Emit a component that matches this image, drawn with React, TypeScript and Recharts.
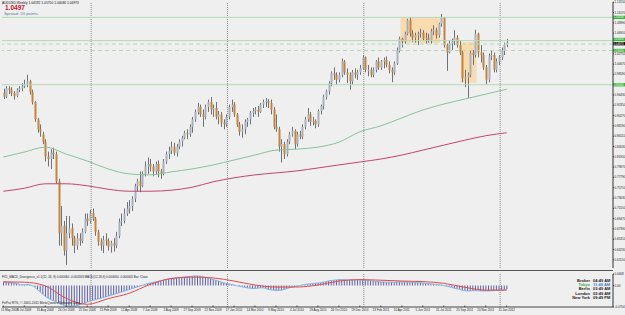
import { ComposedChart, Bar, Line, XAxis, YAxis, ReferenceLine, ReferenceArea } from 'recharts'

// weekly AUDUSD candles [open, high, low, close], first bar = 11 May 2008
const candles2008 = [
  [0.948, 0.957, 0.936, 0.941], [0.941, 0.962, 0.938, 0.958], [0.958, 0.962, 0.946, 0.955], [0.955, 0.96, 0.942, 0.948],
  [0.948, 0.952, 0.935, 0.942], [0.942, 0.958, 0.94, 0.955], [0.955, 0.962, 0.95, 0.958], [0.958, 0.968, 0.952, 0.962],
  [0.962, 0.975, 0.958, 0.966], [0.966, 0.985, 0.96, 0.972], [0.972, 0.975, 0.945, 0.95], [0.95, 0.955, 0.925, 0.93],
  [0.93, 0.932, 0.89, 0.895], [0.895, 0.898, 0.868, 0.875], [0.875, 0.885, 0.86, 0.87], [0.865, 0.87, 0.845, 0.85],
  [0.85, 0.855, 0.81, 0.82], [0.82, 0.83, 0.8, 0.815], [0.815, 0.835, 0.795, 0.828], [0.828, 0.838, 0.815, 0.825],
  [0.825, 0.83, 0.765, 0.77], [0.77, 0.775, 0.64, 0.665], [0.665, 0.72, 0.64, 0.68], [0.68, 0.69, 0.62, 0.63],
  [0.63, 0.7, 0.601, 0.665], [0.665, 0.7, 0.655, 0.675], [0.675, 0.685, 0.64, 0.655], [0.655, 0.66, 0.625, 0.64],
  [0.64, 0.665, 0.632, 0.655], [0.655, 0.665, 0.64, 0.65], [0.65, 0.675, 0.645, 0.668], [0.668, 0.705, 0.665, 0.695],
  [0.695, 0.705, 0.68, 0.69], [0.69, 0.712, 0.685, 0.705],
]
const candles2009 = [
  [0.705, 0.715, 0.69, 0.695], [0.695, 0.698, 0.66, 0.668], [0.668, 0.672, 0.64, 0.648], [0.648, 0.655, 0.63, 0.64],
  [0.64, 0.66, 0.625, 0.652], [0.652, 0.665, 0.64, 0.65], [0.65, 0.655, 0.63, 0.638], [0.638, 0.65, 0.626, 0.645],
  [0.645, 0.655, 0.628, 0.64], [0.64, 0.668, 0.635, 0.66], [0.66, 0.695, 0.655, 0.688], [0.688, 0.705, 0.68, 0.69],
  [0.69, 0.715, 0.685, 0.705], [0.705, 0.728, 0.7, 0.715], [0.715, 0.732, 0.705, 0.72], [0.72, 0.74, 0.71, 0.735],
  [0.735, 0.765, 0.728, 0.76], [0.76, 0.775, 0.75, 0.77], [0.77, 0.79, 0.748, 0.76], [0.76, 0.79, 0.758, 0.785],
  [0.785, 0.81, 0.78, 0.8], [0.8, 0.818, 0.785, 0.805], [0.805, 0.815, 0.79, 0.8], [0.8, 0.805, 0.78, 0.79],
  [0.79, 0.81, 0.785, 0.805], [0.805, 0.812, 0.778, 0.79], [0.79, 0.795, 0.775, 0.785], [0.785, 0.815, 0.782, 0.81],
  [0.81, 0.83, 0.805, 0.825], [0.825, 0.84, 0.815, 0.832], [0.832, 0.85, 0.825, 0.84], [0.84, 0.848, 0.822, 0.828],
  [0.828, 0.845, 0.82, 0.84], [0.84, 0.855, 0.835, 0.85], [0.85, 0.862, 0.84, 0.858], [0.858, 0.872, 0.855, 0.868],
  [0.868, 0.875, 0.855, 0.865], [0.865, 0.885, 0.86, 0.88], [0.88, 0.9, 0.868, 0.895], [0.895, 0.915, 0.89, 0.91],
  [0.91, 0.928, 0.905, 0.92], [0.92, 0.925, 0.9, 0.905], [0.905, 0.915, 0.88, 0.9], [0.9, 0.925, 0.895, 0.92],
  [0.92, 0.935, 0.91, 0.93], [0.93, 0.94, 0.905, 0.915], [0.915, 0.925, 0.9, 0.918], [0.918, 0.93, 0.895, 0.9],
  [0.9, 0.912, 0.885, 0.905], [0.905, 0.91, 0.88, 0.888], [0.888, 0.895, 0.875, 0.885], [0.885, 0.905, 0.88, 0.9],
]
const candles2010 = [
  [0.9, 0.925, 0.895, 0.92], [0.92, 0.935, 0.91, 0.925], [0.925, 0.93, 0.9, 0.905], [0.905, 0.908, 0.88, 0.885],
  [0.885, 0.89, 0.862, 0.87], [0.87, 0.885, 0.858, 0.875], [0.875, 0.895, 0.865, 0.89], [0.89, 0.898, 0.88, 0.895],
  [0.895, 0.912, 0.885, 0.908], [0.908, 0.918, 0.9, 0.912], [0.912, 0.92, 0.905, 0.915], [0.915, 0.922, 0.9, 0.91],
  [0.91, 0.928, 0.908, 0.925], [0.925, 0.935, 0.918, 0.93], [0.93, 0.938, 0.92, 0.932], [0.932, 0.936, 0.918, 0.928],
  [0.928, 0.935, 0.905, 0.915], [0.915, 0.92, 0.875, 0.88], [0.88, 0.905, 0.87, 0.875], [0.875, 0.88, 0.83, 0.84],
  [0.84, 0.855, 0.808, 0.845], [0.845, 0.85, 0.815, 0.825], [0.825, 0.855, 0.82, 0.85], [0.85, 0.87, 0.845, 0.865],
  [0.865, 0.88, 0.86, 0.872], [0.872, 0.875, 0.835, 0.845], [0.845, 0.87, 0.84, 0.865], [0.865, 0.872, 0.855, 0.86],
  [0.86, 0.885, 0.855, 0.88], [0.88, 0.9, 0.875, 0.895], [0.895, 0.918, 0.89, 0.905], [0.905, 0.91, 0.882, 0.89],
  [0.89, 0.9, 0.883, 0.892], [0.892, 0.895, 0.877, 0.885], [0.885, 0.915, 0.88, 0.912], [0.912, 0.925, 0.905, 0.922],
  [0.922, 0.945, 0.915, 0.94], [0.94, 0.955, 0.935, 0.952], [0.952, 0.972, 0.945, 0.968], [0.968, 0.992, 0.962, 0.988],
  [0.988, 1.0, 0.975, 0.985], [0.985, 0.99, 0.965, 0.975], [0.975, 0.99, 0.97, 0.985], [0.985, 1.018, 0.98, 1.012],
  [1.012, 1.015, 0.985, 0.99], [0.99, 0.998, 0.968, 0.985], [0.985, 0.99, 0.955, 0.972], [0.972, 0.995, 0.965, 0.99],
  [0.99, 0.998, 0.978, 0.985], [0.985, 0.995, 0.975, 0.99], [0.99, 1.005, 0.985, 0.998], [0.998, 1.025, 0.995, 1.02],
]
const candles2011 = [
  [1.02, 1.022, 0.99, 0.995], [0.995, 1.005, 0.982, 0.995], [0.995, 1.0, 0.98, 0.985], [0.985, 1.0, 0.98, 0.995],
  [0.995, 1.015, 0.99, 1.012], [1.012, 1.02, 0.995, 1.0], [1.0, 1.015, 0.995, 1.012], [1.012, 1.02, 0.998, 1.015],
  [1.015, 1.022, 1.0, 1.005], [1.005, 1.012, 0.988, 0.995], [0.995, 1.0, 0.97, 0.99], [0.99, 1.012, 0.985, 1.008],
  [1.008, 1.04, 1.005, 1.035], [1.035, 1.062, 1.03, 1.058], [1.058, 1.06, 1.04, 1.052], [1.052, 1.072, 1.048, 1.068],
  [1.068, 1.098, 1.065, 1.095], [1.095, 1.101, 1.062, 1.068], [1.068, 1.075, 1.052, 1.06], [1.06, 1.07, 1.05, 1.065],
  [1.065, 1.072, 1.045, 1.068], [1.068, 1.078, 1.06, 1.07], [1.07, 1.075, 1.055, 1.058], [1.058, 1.07, 1.048, 1.06],
  [1.06, 1.068, 1.05, 1.055], [1.055, 1.078, 1.048, 1.073], [1.073, 1.085, 1.065, 1.075], [1.075, 1.08, 1.058, 1.065],
  [1.065, 1.09, 1.06, 1.088], [1.088, 1.108, 1.082, 1.1], [1.1, 1.102, 1.04, 1.045], [1.045, 1.048, 0.993, 1.03],
  [1.03, 1.055, 1.028, 1.048], [1.048, 1.058, 1.035, 1.052], [1.052, 1.075, 1.045, 1.06], [1.06, 1.065, 1.04, 1.045],
  [1.045, 1.055, 1.025, 1.03], [1.03, 1.035, 0.97, 0.978], [0.978, 0.995, 0.96, 0.98], [0.98, 0.99, 0.938, 0.985],
  [0.985, 1.035, 0.98, 1.03], [1.03, 1.035, 1.005, 1.025], [1.025, 1.076, 1.02, 1.068], [1.068, 1.07, 1.02, 1.03],
  [1.03, 1.045, 1.01, 1.025], [1.025, 1.03, 0.995, 1.0], [1.0, 1.005, 0.966, 0.975], [0.975, 1.028, 0.97, 1.022],
  [1.022, 1.035, 1.015, 1.025], [1.025, 1.03, 0.99, 0.995], [0.995, 1.018, 0.99, 1.012], [1.012, 1.025, 1.005, 1.02],
]
const candles2012 = [
  [1.02, 1.04, 1.015, 1.035], [1.035, 1.05, 1.025, 1.046], [1.046, 1.0575, 1.0408, 1.0497],
]

// moving averages read every 8th bar (at the date labels)
const maGreen = [0.819, 0.829, 0.839, 0.825, 0.811, 0.795, 0.785, 0.783, 0.789, 0.795, 0.803, 0.813, 0.823,
  0.833, 0.835, 0.839, 0.849, 0.87, 0.882, 0.898, 0.914, 0.926, 0.936, 0.946, 0.956]
const maRed = [0.75, 0.756, 0.765, 0.765, 0.761, 0.754, 0.75, 0.75, 0.752, 0.758, 0.769, 0.777, 0.783,
  0.787, 0.791, 0.797, 0.803, 0.809, 0.815, 0.823, 0.833, 0.843, 0.853, 0.862, 0.868]

// MACD histogram, one value per week
const macd2008 = [0.013, 0.013, 0.012, 0.011, 0.009, 0.007, 0.005, 0.003, 0.003, 0.004, 0.003, 0, -0.006, -0.014, -0.022, -0.03,
  -0.038, -0.044, -0.049, -0.053, -0.056, -0.062, -0.066, -0.069, -0.072, -0.073, -0.073, -0.072, -0.071, -0.068, -0.065, -0.062,
  -0.058, -0.055]
const macd2009 = [-0.052, -0.05, -0.047, -0.045, -0.042, -0.04, -0.037, -0.034, -0.031, -0.029, -0.026, -0.023, -0.02, -0.017,
  -0.014, -0.011, -0.008, -0.005, -0.002, 0.001, 0.004, 0.007, 0.009, 0.011, 0.013, 0.015, 0.017, 0.019, 0.021, 0.023,
  0.025, 0.026, 0.027, 0.028, 0.029, 0.03, 0.031, 0.032, 0.033, 0.034, 0.034, 0.033, 0.031, 0.029, 0.027, 0.024,
  0.021, 0.019, 0.016, 0.013, 0.01, 0.008]
const macd2010 = [0.006, 0.004, 0.002, 0, -0.002, -0.004, -0.006, -0.008, -0.009, -0.01, -0.01, -0.009, -0.008, -0.008, -0.01, -0.013,
  -0.015, -0.016, -0.017, -0.017, -0.016, -0.014, -0.011, -0.008, -0.006, -0.004, -0.002, 0, 0.002, 0.004, 0.005, 0.006,
  0.007, 0.008, 0.009, 0.01, 0.012, 0.014, 0.016, 0.018, 0.019, 0.02, 0.021, 0.021, 0.021, 0.02, 0.02, 0.02,
  0.02, 0.02, 0.02, 0.02]
const macd2011 = [0.019, 0.018, 0.017, 0.016, 0.015, 0.014, 0.013, 0.013, 0.012, 0.012, 0.012, 0.012, 0.013, 0.013,
  0.013, 0.013, 0.013, 0.012, 0.012, 0.011, 0.01, 0.01, 0.009, 0.008, 0.007, 0.006, 0.005, 0.004, 0.003, 0.002,
  0, -0.002, -0.004, -0.006, -0.009, -0.011, -0.013, -0.016, -0.018, -0.019, -0.019, -0.018, -0.018, -0.018, -0.019, -0.019,
  -0.019, -0.019, -0.018, -0.018, -0.017, -0.017]
const macd2012 = [-0.016, -0.015, -0.013]
// signal line read every 8th bar
const signal = [0.013, 0.012, -0.001, -0.045, -0.066, -0.046, -0.027, 0.004, 0.025, 0.03, 0.027, 0.016, 0.002,
  -0.005, -0.005, 0.002, 0.016, 0.021, 0.019, 0.016, 0.014, 0.008, -0.006, -0.016, -0.016]

const dateLabels = ['11 May 2008', '6 Jul 2008', '31 Aug 2008', '26 Oct 2008', '21 Dec 2008', '15 Feb 2009', '12 Apr 2009',
  '7 Jun 2009', '2 Aug 2009', '27 Sep 2009', '22 Nov 2009', '17 Jan 2010', '14 Mar 2010', '9 May 2010', '4 Jul 2010',
  '29 Aug 2010', '24 Oct 2010', '19 Dec 2010', '13 Feb 2011', '10 Apr 2011', '5 Jun 2011', '31 Jul 2011', '25 Sep 2011',
  '20 Nov 2011', '15 Jan 2012']
// price scale labels (the ones hidden under the price tags are left out)
const priceTicks = [1.1315, 1.1107, 1.0899, 1.0691, 1.0275, 1.0067, 0.9859, 0.9443, 0.9235, 0.9027, 0.8819,
  0.8611, 0.8403, 0.8195, 0.7987, 0.7779, 0.7571, 0.7363, 0.7155, 0.6947, 0.6739, 0.6531, 0.6323, 0.6115]
const yearStarts = [34, 86, 138, 190]
const levels = [
  { y: 1.101, dash: false, tag: '1.10100', dy: 0 },
  { y: 1.054, dash: false, tag: '1.05400', dy: -1.2 },
  { y: 1.047, dash: true, tag: '', dy: 0 },
  { y: 1.034, dash: true, tag: '1.03400', dy: 0 },
  { y: 0.965, dash: false, tag: '0.96500', dy: 0 },
]
const boxes = [
  { x1: 152, x2: 166, y1: 1.049, y2: 1.1 },
  { x1: 175, x2: 180, y1: 0.969, y2: 1.051 },
]
const clock = [
  ['Broker', '04:49 AM'],
  ['Tokyo', '11:49 AM'],
  ['Berlin', '03:49 AM'],
  ['London', '02:49 AM'],
  ['New York', '09:49 PM'],
]

const candles = [...candles2008, ...candles2009, ...candles2010, ...candles2011, ...candles2012]
const macd = [...macd2008, ...macd2009, ...macd2010, ...macd2011, ...macd2012]
const rows = candles.map(([o, h, l, c], i) => ({
  i, o, h, l, c,
  range: [l, h],
  maG: i % 8 === 0 ? maGreen[i / 8] : null,
  maR: i % 8 === 0 ? maRed[i / 8] : null,
  macd: macd[i],
  sig: i % 8 === 0 ? signal[i / 8] : null,
}))
const dateTicks = dateLabels.map((_, k) => k * 8)

const FONT = "'Liberation Sans', Arial, sans-serif"
const BG = '#efefef'
const PAD_RIGHT = 105

function Candle(props: any) {
  const { x, y, width, height, payload } = props
  const { o, h, l, c } = payload
  const top = Math.min(y, y + height)
  const hgt = Math.abs(height)
  const ppu = h === l ? 0 : hgt / (h - l)
  const px = Math.round(x + width / 2)
  const bTop = top + (h - Math.max(o, c)) * ppu
  const bBot = top + (h - Math.min(o, c)) * ppu
  const up = c >= o
  return (
    <g>
      <line x1={px + 0.5} x2={px + 0.5} y1={top} y2={top + hgt} stroke="#6d7178" strokeWidth={1} />
      <rect x={px - 0.5} y={bTop} width={2} height={Math.max(1, bBot - bTop)} fill={up ? '#a9b0bb' : '#c4853a'} />
    </g>
  )
}

function Tag({ viewBox, text, bg, fg, dy = 0 }: any) {
  if (!viewBox || !text) return null
  const xr = viewBox.x + viewBox.width
  const cy = viewBox.y + dy
  return (
    <g>
      <rect x={xr} y={cy - 1.7} width={12} height={3.4} fill={bg} />
      <text x={xr + 0.5} y={cy + 1} fontSize={2.8} fill={fg} fontFamily={FONT}>{text}</text>
    </g>
  )
}

function DateTick({ x, y, payload, index }: any) {
  const first = index === 0
  return (
    <g>
      <line x1={x} x2={x} y1={y - 1.5} y2={y} stroke="#444" />
      <text x={first ? 1 : x} y={y + 4.2} fontSize={3} fill="#222" fontFamily={FONT} textAnchor={first ? 'start' : 'middle'}>
        {dateLabels[payload.value / 8]}
      </text>
    </g>
  )
}

export default function App() {
  return (
    <div style={{ position: 'absolute', left: 0, top: 0, width: 625, height: 315, background: BG, overflow: 'hidden', fontFamily: FONT }}>
      <div style={{ position: 'absolute', left: 0, top: 0 }}>
        <ComposedChart width={625} height={271} data={rows} margin={{ top: 2, right: 0, bottom: 3, left: 2 }} barCategoryGap={0}>
          <XAxis dataKey="i" hide padding={{ left: 0, right: PAD_RIGHT }} />
          <YAxis
            orientation="right"
            width={12}
            domain={[0.595, 1.132]}
            allowDataOverflow
            ticks={priceTicks}
            interval={0}
            tickFormatter={(v: number) => v.toFixed(5)}
            tick={{ fontSize: 3, fill: '#222', fontFamily: FONT }}
            tickSize={1}
            tickMargin={0.5}
            axisLine={{ stroke: '#333' }}
            tickLine={{ stroke: '#333' }}
          />
          {boxes.map((b, k) => (
            <ReferenceArea key={k} x1={b.x1} x2={b.x2} y1={b.y1} y2={b.y2} fill="#fcd7a4" fillOpacity={0.85} stroke="none" />
          ))}
          {yearStarts.map((x) => (
            <ReferenceLine key={x} x={x} position="start" stroke="#8a8a8a" strokeDasharray="1 1" />
          ))}
          {levels.map((lv) => (
            <ReferenceLine
              key={lv.y}
              y={lv.y}
              stroke="#b4d9b4"
              strokeDasharray={lv.dash ? '4 3' : undefined}
              label={(p: any) => <Tag {...p} text={lv.tag} dy={lv.dy} bg="#3fb43f" fg="#eaffea" />}
            />
          ))}
          <ReferenceLine y={1.0497} stroke="none" label={(p: any) => <Tag {...p} text="1.04973" dy={0.9} bg="#111" fg="#fff" />} />
          <Line dataKey="maG" stroke="#86c29a" strokeWidth={1} dot={false} connectNulls type="monotone" isAnimationActive={false} />
          <Line dataKey="maR" stroke="#c2476b" strokeWidth={1} dot={false} connectNulls type="monotone" isAnimationActive={false} />
          <Bar dataKey="range" shape={Candle} isAnimationActive={false} />
        </ComposedChart>
      </div>
      <div style={{ position: 'absolute', left: 0, top: 270, width: 613, height: 1, background: '#555' }} />
      <div style={{ position: 'absolute', left: 0, top: 271 }}>
        <ComposedChart width={625} height={44} data={rows} margin={{ top: 3, right: 0, bottom: 0, left: 2 }} barCategoryGap={0}>
          <XAxis
            dataKey="i"
            height={8}
            padding={{ left: 0, right: PAD_RIGHT }}
            ticks={dateTicks}
            interval={0}
            tick={<DateTick />}
            tickLine={false}
            tickSize={0}
            tickMargin={0}
            axisLine={{ stroke: '#444' }}
          />
          <YAxis
            orientation="right"
            width={12}
            domain={[-0.0754, 0.0408]}
            allowDataOverflow
            ticks={[0.0408, 0, -0.0754]}
            interval={0}
            tickFormatter={(v: number) => (v === 0 ? '0.00' : v.toFixed(4))}
            tick={{ fontSize: 3, fill: '#222', fontFamily: FONT }}
            tickSize={1}
            tickMargin={0.5}
            axisLine={{ stroke: '#333' }}
            tickLine={{ stroke: '#333' }}
          />
          {yearStarts.map((x) => (
            <ReferenceLine key={x} x={x} position="start" stroke="#8a8a8a" strokeDasharray="1 1" />
          ))}
          <Bar dataKey="macd" barSize={1} fill="#5f5fa8" isAnimationActive={false} />
          <Line dataKey="macd" stroke="#7fb4e6" strokeWidth={1} dot={false} type="monotone" isAnimationActive={false} />
          <Line dataKey="sig" stroke="#e04a4a" strokeWidth={1} dot={false} connectNulls type="monotone" isAnimationActive={false} />
        </ComposedChart>
      </div>
      <svg width={625} height={315} style={{ position: 'absolute', left: 0, top: 0, pointerEvents: 'none' }} fontFamily={FONT}>
        <text x={2} y={3.5} fontSize={3.3} fill="#111">AUDUSD,Weekly  1.04592 1.05750 1.04080 1.04973</text>
        <text x={5} y={9.5} fontSize={6.5} fontWeight="bold" fill="#c8102e">1.0497</text>
        <text x={4} y={15} fontSize={4.3} fill="#5b7b9b">Spread: 20 points.</text>
        <text x={2} y={277.5} fontSize={3} fill="#222">
          FX5_MACD_Divergence_v1.1(12, 26, 9) 0.000060 -0.000263 MACD(12,26,9) 0.000060 -0.000005 Bar: Close
        </text>
        <text x={2} y={304} fontSize={3.3} fill="#222">FxPro RTS, © 2001-2011 MetaQuotes Software Corp.</text>
        {clock.map(([name, time], k) => (
          <g key={name}>
            <text x={590} y={282 + k * 4.2} fontSize={4} fontWeight="bold" textAnchor="end" fill={name === 'Tokyo' ? '#3aa53a' : '#222'}>
              {name}
            </text>
            <text x={593} y={282 + k * 4.2} fontSize={4} fontWeight="bold" fill={name === 'Tokyo' ? '#3a7fc8' : '#222'}>
              {time}
            </text>
          </g>
        ))}
      </svg>
    </div>
  )
}
